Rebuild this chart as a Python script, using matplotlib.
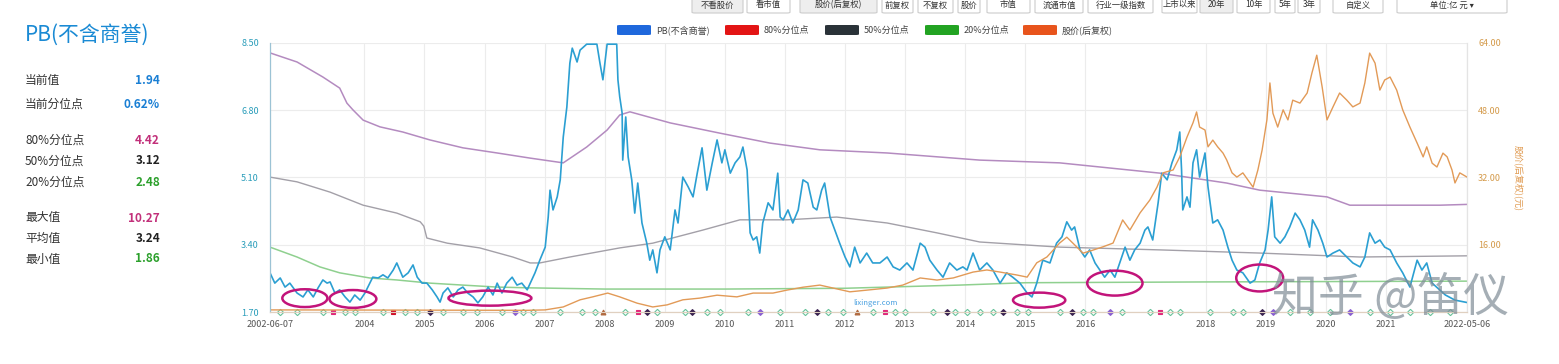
import matplotlib
matplotlib.use("Agg")
import matplotlib.pyplot as plt
from matplotlib.patches import Ellipse, FancyBboxPatch
import numpy as np

plt.rcParams["font.family"] = ["Noto Sans CJK SC", "DejaVu Sans"]

W, H = 1559, 364

# PB(不含商誉), fractional years
pb_years = [
    2002.43, 2002.51, 2002.60, 2002.68, 2002.76, 2002.88, 2002.98, 2003.06, 2003.15, 2003.23,
    2003.31, 2003.38, 2003.43, 2003.51, 2003.59, 2003.68, 2003.76, 2003.84, 2003.93, 2004.01,
    2004.09, 2004.14, 2004.23, 2004.31, 2004.39, 2004.48, 2004.54, 2004.59, 2004.64, 2004.73,
    2004.81, 2004.88, 2004.96, 2005.04, 2005.13, 2005.21, 2005.26, 2005.31, 2005.39, 2005.48,
    2005.56, 2005.64, 2005.72, 2005.81, 2005.89, 2005.97, 2006.06, 2006.14, 2006.21, 2006.29,
    2006.37, 2006.46, 2006.54, 2006.62, 2006.71, 2006.84, 2006.92, 2007.01, 2007.06, 2007.09,
    2007.14, 2007.21, 2007.26, 2007.31, 2007.37, 2007.42, 2007.46, 2007.54, 2007.59, 2007.70,
    2007.80, 2007.87, 2007.92, 2007.97, 2008.04, 2008.12, 2008.20, 2008.22, 2008.25, 2008.29,
    2008.30, 2008.35, 2008.39, 2008.45, 2008.50, 2008.55, 2008.62, 2008.70, 2008.75, 2008.80,
    2008.87, 2008.92, 2009.00, 2009.09, 2009.17, 2009.22, 2009.30, 2009.39, 2009.47, 2009.54,
    2009.62, 2009.70, 2009.79, 2009.87, 2009.95, 2010.00, 2010.09, 2010.17, 2010.25, 2010.30,
    2010.37, 2010.42, 2010.47, 2010.53, 2010.58, 2010.63, 2010.72, 2010.80, 2010.88, 2010.92,
    2010.97, 2011.05, 2011.13, 2011.22, 2011.30, 2011.38, 2011.47, 2011.53, 2011.61, 2011.66,
    2011.75, 2011.83, 2011.91, 2012.00, 2012.08, 2012.16, 2012.25, 2012.36, 2012.46, 2012.58,
    2012.70, 2012.80, 2012.91, 2013.03, 2013.13, 2013.25, 2013.33, 2013.41, 2013.53, 2013.63,
    2013.74, 2013.86, 2013.96, 2014.03, 2014.13, 2014.24, 2014.36, 2014.46, 2014.58, 2014.69,
    2014.79, 2014.91, 2015.03, 2015.11, 2015.19, 2015.29, 2015.41, 2015.52, 2015.61, 2015.69,
    2015.77, 2015.82, 2015.91, 2015.99, 2016.07, 2016.16, 2016.24, 2016.32, 2016.41, 2016.49,
    2016.57, 2016.66, 2016.74, 2016.82, 2016.91, 2016.99, 2017.04, 2017.12, 2017.21, 2017.27,
    2017.36, 2017.44, 2017.52, 2017.57, 2017.60, 2017.62, 2017.69, 2017.74, 2017.79, 2017.85,
    2017.90, 2017.99, 2018.04, 2018.12, 2018.20, 2018.29, 2018.37, 2018.44, 2018.52, 2018.62,
    2018.74, 2018.82, 2018.90, 2018.99, 2019.04, 2019.10, 2019.15, 2019.24, 2019.32, 2019.40,
    2019.49, 2019.57, 2019.65, 2019.73, 2019.78, 2019.87, 2019.95, 2020.02, 2020.12, 2020.23,
    2020.35, 2020.45, 2020.57, 2020.65, 2020.73, 2020.82, 2020.90, 2020.98, 2021.07, 2021.18,
    2021.28, 2021.40, 2021.52, 2021.60, 2021.68, 2021.77, 2021.99, 2022.15, 2022.35,
]
pb_values = [
    2.69, 2.43, 2.56, 2.33, 2.43, 2.18, 2.08, 2.26, 2.08, 2.31,
    2.51, 2.43, 2.46, 2.18, 2.26, 2.08, 1.95, 2.13, 2.00, 2.18,
    2.43, 2.58, 2.56, 2.64, 2.56, 2.76, 2.94, 2.76, 2.58, 2.69,
    2.89, 2.58, 2.43, 2.43, 2.26, 2.08, 1.95, 2.18, 2.31, 2.08,
    2.26, 2.33, 2.18, 2.08, 1.93, 2.08, 2.33, 2.13, 2.43, 2.18,
    2.43, 2.58, 2.38, 2.43, 2.26, 2.69, 3.01, 3.34, 4.10, 4.78,
    4.28, 4.61, 5.04, 6.12, 6.88, 7.99, 8.37, 8.02, 8.32, 9.40,
    10.27, 9.80, 8.00, 7.57, 8.90, 9.60, 8.80, 7.57, 7.14, 6.73,
    5.54, 6.63, 5.62, 5.04, 4.20, 4.96, 3.95, 3.44, 3.01, 3.27,
    2.69, 3.27, 3.60, 3.27, 4.28, 3.95, 5.11, 4.86, 4.61, 5.21,
    5.85, 4.78, 5.47, 6.05, 5.47, 5.80, 5.21, 5.47, 5.62, 5.87,
    5.29, 3.70, 3.52, 3.60, 3.19, 3.95, 4.46, 4.28, 5.21, 4.10,
    4.03, 4.28, 3.95, 4.28, 5.04, 4.96, 4.35, 4.28, 4.78, 4.96,
    4.10, 3.77, 3.44, 3.09, 2.84, 3.34, 2.94, 3.19, 2.94, 2.94,
    3.09, 2.84, 2.76, 2.94, 2.76, 3.44, 3.34, 3.01, 2.76, 2.58,
    2.94, 2.76, 2.84, 2.76, 3.19, 2.76, 2.94, 2.76, 2.43, 2.69,
    2.58, 2.43, 2.18, 2.08, 2.43, 3.01, 2.94, 3.44, 3.60, 3.98,
    3.77, 3.85, 3.27, 3.09, 3.27, 2.94, 2.76, 2.58, 2.76, 2.58,
    2.94, 3.34, 3.01, 3.27, 3.44, 3.77, 3.85, 3.52, 4.46, 5.21,
    5.04, 5.47, 5.80, 6.25, 5.29, 4.28, 4.61, 4.35, 5.47, 5.80,
    5.11, 5.72, 4.86, 3.95, 4.03, 3.77, 3.34, 3.01, 2.76, 2.69,
    2.43, 2.51, 2.94, 3.27, 3.77, 4.61, 3.60, 3.44, 3.60, 3.85,
    4.20, 4.03, 3.77, 3.34, 4.03, 3.77, 3.44, 3.09, 3.19, 3.27,
    3.09, 2.94, 2.84, 3.09, 3.70, 3.44, 3.52, 3.34, 3.27, 2.94,
    2.69, 2.33, 3.01, 2.76, 2.94, 2.43, 2.13, 2.00, 1.94,
]

# percentile lines
p80_years = [2002.43, 2002.88, 2003.31, 2003.59, 2003.71, 2003.81, 2003.98, 2004.26, 2004.64, 2005.09,
             2005.64, 2006.21, 2006.76, 2007.31, 2007.70, 2008.04, 2008.25, 2008.42, 2009.09, 2009.92,
             2010.75, 2011.58, 2012.70, 2014.24, 2015.57, 2017.24, 2018.35, 2018.90, 2020.02, 2020.40,
             2021.90, 2022.35]
p80_values = [8.25, 8.02, 7.64, 7.36, 6.98, 6.81, 6.55, 6.38, 6.25, 6.05,
              5.85, 5.72, 5.59, 5.47, 5.87, 6.30, 6.68, 6.76, 6.48, 6.22,
              5.97, 5.80, 5.72, 5.54, 5.47, 5.21, 4.96, 4.78, 4.61, 4.40,
              4.40, 4.42]
p50_years = [2002.43, 2002.88, 2003.43, 2003.98, 2004.54, 2004.93, 2004.99, 2005.04, 2005.38, 2005.92,
             2006.47, 2006.76, 2006.92, 2007.42, 2008.25, 2008.80, 2009.63, 2010.25, 2011.03, 2011.86,
             2012.70, 2013.53, 2014.24, 2015.57, 2017.24, 2018.90, 2020.57, 2022.35]
p50_values = [5.11, 4.99, 4.73, 4.40, 4.20, 3.98, 3.87, 3.57, 3.44, 3.32,
              3.09, 2.94, 2.94, 3.09, 3.32, 3.44, 3.77, 4.03, 4.03, 4.10,
              3.95, 3.70, 3.47, 3.34, 3.27, 3.19, 3.09, 3.12]
p20_years = [2002.43, 2002.88, 2003.26, 2003.59, 2004.09, 2004.54, 2005.09, 2005.64, 2006.21, 2006.76,
             2008.00, 2010.00, 2012.00, 2013.90, 2015.00, 2018.00, 2022.35]
p20_values = [3.34, 3.09, 2.84, 2.69, 2.56, 2.51, 2.43, 2.38, 2.33, 2.31,
              2.28, 2.28, 2.30, 2.38, 2.44, 2.46, 2.48]

# price line on the right axis
px_years = [
    2002.43, 2006.71, 2007.01, 2007.31, 2007.59, 2007.80, 2008.05, 2008.25, 2008.54, 2008.80,
    2009.04, 2009.30, 2009.58, 2009.87, 2010.20, 2010.47, 2010.80, 2011.03, 2011.30, 2011.58,
    2011.80, 2012.08, 2012.36, 2012.70, 2012.96, 2013.25, 2013.53, 2013.80, 2014.13, 2014.36,
    2014.58, 2014.86, 2015.03, 2015.19, 2015.36, 2015.57, 2015.69, 2015.79, 2015.96, 2016.12,
    2016.29, 2016.46, 2016.62, 2016.74, 2016.91, 2017.07, 2017.19, 2017.29, 2017.46, 2017.57,
    2017.69, 2017.79, 2017.85, 2017.90, 2017.99, 2018.04, 2018.12, 2018.20, 2018.29, 2018.35,
    2018.44, 2018.52, 2018.62, 2018.74, 2018.79, 2018.87, 2018.94, 2019.02, 2019.07, 2019.12,
    2019.20, 2019.29, 2019.37, 2019.45, 2019.57, 2019.69, 2019.77, 2019.85, 2019.94, 2020.02,
    2020.12, 2020.23, 2020.35, 2020.45, 2020.57, 2020.65, 2020.73, 2020.82, 2020.90, 2020.98,
    2021.07, 2021.18, 2021.28, 2021.40, 2021.52, 2021.62, 2021.68, 2021.77, 2021.85, 2021.95,
    2022.02, 2022.10, 2022.15, 2022.23, 2022.35,
]
px_values = [
    0.5, 0.4, 0.5, 1.2, 2.9, 3.6, 4.5, 3.6, 2.1, 1.2,
    1.7, 2.9, 3.3, 4.0, 3.6, 4.5, 4.5, 5.2, 5.9, 6.4,
    5.7, 4.8, 5.2, 5.7, 6.4, 8.1, 7.6, 8.1, 9.5, 10.0,
    9.5, 8.8, 8.3, 11.7, 13.1, 16.4, 17.8, 16.4, 14.0, 14.7,
    15.5, 16.4, 21.9, 19.5, 23.6, 26.6, 29.7, 33.1, 33.8, 36.9,
    41.6, 45.0, 47.6, 44.0, 43.3, 39.3, 40.9, 39.3, 37.8, 36.2,
    33.1, 32.1, 33.1, 30.7, 29.7, 33.8, 38.5, 45.7, 54.5, 47.3,
    44.0, 48.1, 45.7, 50.4, 49.7, 52.1, 56.9, 61.1, 53.5, 45.7,
    48.8, 52.1, 50.4, 48.8, 49.7, 54.5, 61.6, 59.2, 52.8, 55.2,
    55.9, 52.8, 48.1, 44.0, 40.2, 36.9, 39.3, 35.4, 34.5, 37.8,
    36.9, 33.8, 30.7, 33.1, 32.1,
]

# event markers along the bottom
event_years = [
    2002.60, 2002.88, 2003.31, 2003.48, 2003.68, 2003.84, 2004.31, 2004.48, 2004.68, 2004.88,
    2005.09, 2005.31, 2005.64, 2005.87, 2006.29, 2006.51, 2006.64, 2006.81, 2007.26, 2007.62,
    2007.84, 2007.97, 2008.34, 2008.55, 2008.70, 2008.87, 2009.34, 2009.45, 2009.70, 2009.92,
    2010.38, 2010.58, 2010.92, 2011.33, 2011.53, 2011.72, 2011.97, 2012.20, 2012.46, 2012.66,
    2012.83, 2013.00, 2013.46, 2013.70, 2013.83, 2014.03, 2014.24, 2014.46, 2014.63, 2014.86,
    2015.04, 2015.57, 2015.77, 2015.96, 2016.12, 2016.41, 2016.61, 2017.07, 2017.24, 2017.41,
    2017.57, 2018.07, 2018.45, 2018.62, 2018.94, 2019.12, 2019.40, 2019.74, 2020.07, 2020.40,
    2020.73, 2021.07, 2021.40, 2021.73, 2022.07,
]
event_kinds = [
    "g", "g", "g", "p", "g", "g", "g", "r", "g", "g",
    "d", "g", "g", "g", "g", "v", "g", "g", "g", "g",
    "g", "t", "g", "p", "d", "g", "g", "d", "g", "g",
    "g", "v", "g", "g", "d", "g", "g", "t", "g", "p",
    "g", "g", "g", "d", "g", "g", "g", "g", "d", "g",
    "g", "g", "d", "g", "g", "v", "g", "g", "p", "g",
    "g", "g", "g", "g", "d", "v", "g", "g", "g", "v",
    "g", "g", "g", "g", "g",
]

# hand-drawn circles (centre year, centre value, width in years, height in PB)
circle_years = [2003.01, 2003.81, 2006.09, 2015.23, 2016.49, 2018.90]
circle_values = [2.05, 2.03, 2.05, 2.00, 2.43, 2.56]
circle_widths = [0.75, 0.78, 1.38, 0.87, 0.92, 0.78]
circle_heights = [0.45, 0.45, 0.38, 0.38, 0.63, 0.68]

tick_years = [2002.43, 2004, 2005, 2006, 2007, 2008, 2009, 2010, 2011, 2012, 2013, 2014,
              2015, 2016, 2018, 2019, 2020, 2021, 2022.35]
tick_labels = ["2002-06-07", "2004", "2005", "2006", "2007", "2008", "2009", "2010", "2011",
               "2012", "2013", "2014", "2015", "2016", "2018", "2019", "2020", "2021", "2022-05-06"]
left_ticks = [1.70, 3.40, 5.10, 6.80, 8.50]
right_ticks = [16, 32, 48, 64]

stat_labels = ["当前值", "当前分位点", "80%分位点", "50%分位点", "20%分位点", "最大值", "平均值", "最小值"]
stat_values = ["1.94", "0.62%", "4.42", "3.12", "2.48", "10.27", "3.24", "1.86"]
stat_colors = ["#1a7fd4", "#1a7fd4", "#c2307a", "#222222", "#2ca02c", "#c2307a", "#222222", "#2ca02c"]
stat_rows_px = [80, 104, 140, 161, 182, 218, 238, 259]

legend_names = ["PB(不含商誉)", "80%分位点", "50%分位点", "20%分位点", "股价(后复权)"]
legend_colors = ["#1f68dc", "#e31414", "#2a3238", "#22a322", "#e8541c"]
legend_x_px = [617, 725, 825, 925, 1023]

buttons = ["不看股价", "看市值", "股价(后复权)", "前复权", "不复权", "股价", "市值", "流通市值",
           "行业一级指数", "上市以来", "20年", "10年", "5年", "3年", "自定义", "单位:亿 元 ▾"]
button_spans_px = [(692, 743), (747, 790), (800, 877), (882, 913), (918, 953), (958, 980),
                   (987, 1030), (1035, 1083), (1088, 1153), (1162, 1197), (1200, 1233),
                   (1237, 1270), (1275, 1295), (1298, 1320), (1333, 1383), (1397, 1507)]
active_buttons = [0, 2, 10]


def fx(px):
    return px / W


def fy(py):
    return 1 - py / H


fig = plt.figure(figsize=(W / 100, H / 100), dpi=100)
fig.patch.set_facecolor("white")

ax = fig.add_axes([fx(270), fy(312), (1467 - 270) / W, (312 - 43) / H])
ax2 = ax.twinx()

ax.set_xlim(2002.43, 2022.35)
ax.set_ylim(1.70, 8.50)
ax2.set_ylim(0, 64)

ax.grid(True, color="#ececec", lw=0.8)
ax.set_axisbelow(True)

ax.plot(p80_years, p80_values, color="#b48bc0", lw=1.1)
ax.plot(p50_years, p50_values, color="#a3a0a8", lw=1.0)
ax.plot(p20_years, p20_values, color="#8fd08f", lw=1.1)
ax.plot(pb_years, np.minimum(pb_values, 8.47), color="#2b9fd2", lw=1.2, zorder=4)

ax2.plot(px_years, px_values, color="#e29a57", lw=1.0)

# event markers
styles = {
    "g": dict(marker="D", mfc="white", mec="#68c39a", ms=3.2),
    "p": dict(marker="s", mfc="#e0287a", mec="#e0287a", ms=3.0),
    "r": dict(marker="s", mfc="#d0102a", mec="#d0102a", ms=3.0),
    "d": dict(marker="D", mfc="#3a2350", mec="#3a2350", ms=3.0),
    "v": dict(marker="D", mfc="#8a5fd0", mec="#8a5fd0", ms=3.0),
    "t": dict(marker="^", mfc="#b0683c", mec="#b0683c", ms=3.5),
}
for yr, kind in zip(event_years, event_kinds):
    ax.plot([yr], [1.70], ls="none", clip_on=False, zorder=6, mew=0.8, **styles[kind])

for cx, cy, cw, ch in zip(circle_years, circle_values, circle_widths, circle_heights):
    ax.add_patch(Ellipse((cx, cy), cw, ch, fill=False, ec="#c2147a", lw=1.8,
                         zorder=7, clip_on=False))

ax.set_xticks(tick_years)
ax.set_xticklabels(tick_labels)
ax.set_yticks(left_ticks)
ax.set_yticklabels([f"{v:.2f}" for v in left_ticks])
ax2.set_yticks(right_ticks)
ax2.set_yticklabels([f"{v:.2f}" for v in right_ticks])

ax.tick_params(axis="x", length=0, labelsize=6.5, labelcolor="#555555", pad=6)
ax.tick_params(axis="y", length=0, labelsize=6.5, labelcolor="#2a9dba", pad=8)
ax2.tick_params(axis="y", length=0, labelsize=6.5, labelcolor="#d49a4a", pad=8)

for a in (ax, ax2):
    a.spines["top"].set_visible(False)
    a.spines["left"].set_color("#9cc3d5")
    a.spines["right"].set_color("#e4e4e4")
    a.spines["bottom"].set_color("#e0d0c0")

fig.text(fx(1518), fy(178), "股价(后复权)(元)", rotation=270, ha="center", va="center",
         fontsize=6.5, color="#e09a50")

# watermarks
fig.text(fx(875), fy(303), "lixinger.com", fontsize=5.5, color="#4aa0e0", ha="center", va="center")
fig.text(fx(1272), fy(298), "知乎 @笛仪", fontsize=33, color="#7f8c96", alpha=0.7,
         ha="left", va="center")

# left panel
fig.text(fx(25), fy(35), "PB(不含商誉)", fontsize=15, color="#1a8ad4", ha="left", va="center")
for lab, val, col, row in zip(stat_labels, stat_values, stat_colors, stat_rows_px):
    fig.text(fx(25), fy(row), lab, fontsize=8.5, color="#333333", ha="left", va="center")
    fig.text(fx(160), fy(row), val, fontsize=8.5, color=col, ha="right", va="center",
             fontweight="bold")

# legend
for name, col, x0 in zip(legend_names, legend_colors, legend_x_px):
    fig.patches.append(FancyBboxPatch((fx(x0), fy(35)), 34 / W, 10 / H,
                                      boxstyle="round,pad=0,rounding_size=0.002",
                                      fc=col, ec="none", transform=fig.transFigure))
    fig.text(fx(x0 + 39), fy(30), name, fontsize=6.5, color="#444444", ha="left", va="center")

# toolbar
for i, (label, (x0, x1)) in enumerate(zip(buttons, button_spans_px)):
    fc = "#eeeeee" if i in active_buttons else "white"
    fig.patches.append(FancyBboxPatch((fx(x0), fy(13)), (x1 - x0) / W, 17 / H,
                                      boxstyle="round,pad=0,rounding_size=0.002",
                                      fc=fc, ec="#cccccc", lw=0.8, transform=fig.transFigure))
    fig.text(fx((x0 + x1) / 2), fy(5), label, fontsize=6, color="#333333",
             ha="center", va="center")

fig.savefig("out.png", dpi=100, facecolor="white")
